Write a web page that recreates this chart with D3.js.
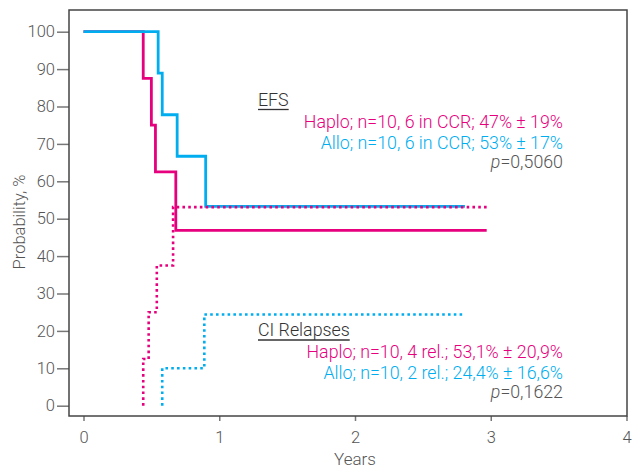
<!DOCTYPE html>
<html><head><meta charset="utf-8">
<script src="https://cdn.jsdelivr.net/npm/d3@7"></script>
<style>body{margin:0;background:#fff}svg{display:block}text{font-family:Roboto,"DejaVu Sans",sans-serif;font-weight:300}</style>
</head><body><svg id="c" width="632" height="468"></svg>
<script>
// data
const xTicks = [0, 1, 2, 3, 4];
const yTicks = [0, 10, 20, 30, 40, 50, 60, 70, 80, 90, 100];
const efsHaploT = [0, 0.44, 0.50, 0.53, 0.68, 2.97];
const efsHaploV = [100, 87.5, 75, 62.5, 46.9, 46.9];
const efsAlloT = [0, 0.55, 0.58, 0.69, 0.90, 2.81];
const efsAlloV = [100, 88.9, 77.8, 66.7, 53.3, 53.3];
const relHaploT = [0.44, 0.44, 0.48, 0.54, 0.66, 2.97];
const relHaploV = [0, 12.5, 25, 37.5, 53.1, 53.1];
const relAlloT = [0.58, 0.58, 0.89, 2.80];
const relAlloV = [0, 10, 24.4, 24.4];
const efsTitle = "EFS";
const efsLines = ["Haplo; n=10, 6 in CCR; 47% \u00b1 19%", "Allo; n=10, 6 in CCR; 53% \u00b1 17%"];
const efsP = "0,5060";
const relTitle = "CI Relapses";
const relLines = ["Haplo; n=10, 4 rel.; 53,1% \u00b1 20,9%", "Allo; n=10, 2 rel.; 24,4% \u00b1 16,6%"];
const relP = "0,1622";

const PINK = "#E6007E", BLUE = "#00AEEF", TXT = "#555";
const svg = d3.select("#c");
const x = d3.scaleLinear().domain([0, 4]).range([83.5, 626.5]);
const y = d3.scaleLinear().domain([0, 100]).range([405.7, 31.7]);
const frame = {l: 69, t: 10, r: 627, b: 416};

// axes
const ya = svg.append("g").attr("transform", `translate(${frame.l},0)`)
  .call(d3.axisLeft(y).tickValues(yTicks).tickFormat(d3.format("d")).tickSize(12).tickPadding(2));
const xa = svg.append("g").attr("transform", `translate(0,${frame.b})`)
  .call(d3.axisBottom(x).tickValues(xTicks).tickFormat(d3.format("d")).tickSize(5).tickPadding(10));
[ya, xa].forEach(g => {
  g.select(".domain").remove();
  g.selectAll("line").attr("stroke", "#777").attr("stroke-width", 1.5);
  g.selectAll("text").attr("fill", TXT).style("font-size", "16.5px")
    .style("font-family", "Roboto,sans-serif").style("font-weight", 300);
});

svg.append("rect").attr("x", frame.l).attr("y", frame.t)
  .attr("width", frame.r - frame.l).attr("height", frame.b - frame.t)
  .attr("fill", "none").attr("stroke", "#444").attr("stroke-width", 1.5);

svg.append("text").attr("transform", "translate(25,222) rotate(-90)")
  .attr("text-anchor", "middle").attr("fill", TXT).style("font-size", "16.5px").text("Probability, %");
svg.append("text").attr("x", 355).attr("y", 464.5).attr("text-anchor", "middle")
  .attr("fill", TXT).style("font-size", "17px").text("Years");

// curves
const line = d3.line().x(d => x(d[0])).y(d => y(d[1])).curve(d3.curveStepAfter);
function draw(T, V, color, dotted) {
  const p = svg.append("path").datum(T.map((t, i) => [t, V[i]]))
    .attr("d", line).attr("fill", "none").attr("stroke", color);
  if (dotted) p.attr("stroke-width", 2.6).attr("stroke-dasharray", "2.6 3.2");
  else p.attr("stroke-width", 2.8);
}
draw(efsHaploT, efsHaploV, PINK, false);
draw(efsAlloT, efsAlloV, BLUE, false);
draw(relHaploT, relHaploV, PINK, true);
draw(relAlloT, relAlloV, BLUE, true);

// legends
const FS = "17.8px";
function legend(title, lines, pval, y0) {
  const t = svg.append("text").attr("x", 258).attr("y", y0).attr("fill", "#333")
    .style("font-size", FS).text(title);
  const w = t.node().getComputedTextLength();
  svg.append("line").attr("x1", 258).attr("x2", 258 + w).attr("y1", y0 + 4).attr("y2", y0 + 4)
    .attr("stroke", "#333").attr("stroke-width", 1.3);
  [PINK, BLUE].forEach((c, i) => {
    svg.append("text").attr("x", 563).attr("y", y0 + 22 + i * 21).attr("text-anchor", "end")
      .attr("fill", c).style("font-size", FS).text(lines[i]);
  });
  const pt = svg.append("text").attr("x", 563).attr("y", y0 + 62).attr("text-anchor", "end")
    .attr("fill", TXT).style("font-size", FS);
  pt.append("tspan").style("font-style", "italic").text("p");
  pt.append("tspan").text("=" + pval);
}
legend(efsTitle, efsLines, efsP, 105.5);
legend(relTitle, relLines, relP, 336);
</script></body></html>
